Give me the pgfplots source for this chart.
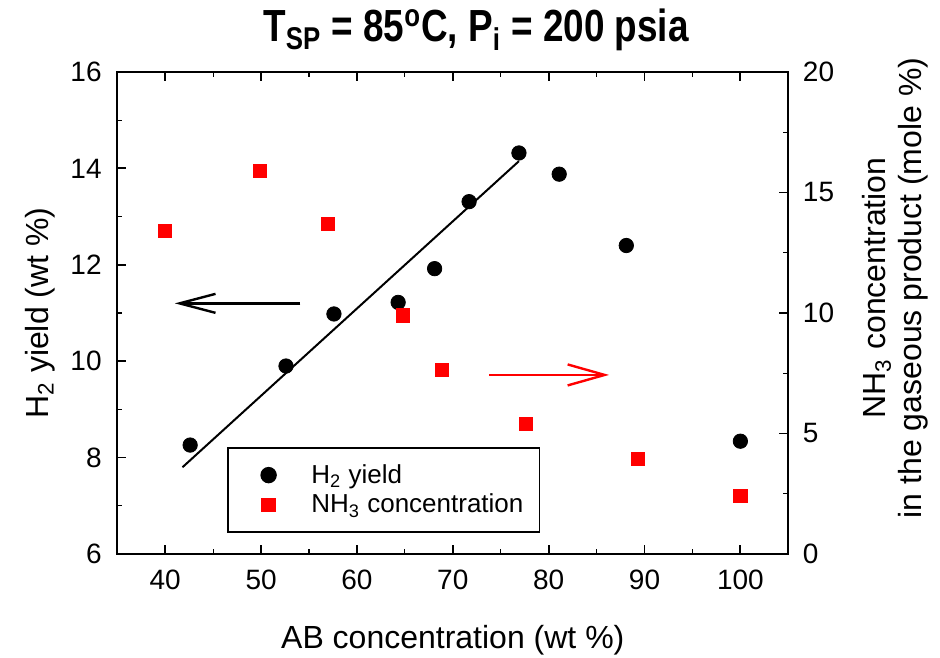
\documentclass[border=0pt]{standalone}
\usepackage{fontspec}
\setmainfont{Liberation Sans}
\newfontfamily\titlefont[FakeStretch=0.82]{Liberation Sans}
\usepackage{pgfplots}
\pgfplotsset{compat=1.18}
\usetikzlibrary{arrows.meta}

\pgfplotsset{
  common/.style={
    scale only axis,
    width=335.5pt, height=241pt,
    xmin=35, xmax=105,
    tick align=inside,
    major tick length=4.5pt,
    minor tick length=2.5pt,
    axis line style={line width=1.1pt},
    every tick/.style={black, line width=0.9pt},
    every minor tick/.style={black, line width=0.6pt},
    /pgf/number format/assume math mode=true,
    tick label style={font=\fontsize{14}{16}\selectfont},
    label style={font=\fontsize{16}{18}\selectfont},
  },
  legimg/.style={
    legend image code/.code={
      \path (0pt,0pt) (28pt,0pt);
      \draw[##1] plot coordinates {(14pt,0pt)};
    }
  }
}

\begin{document}
\begin{tikzpicture}
\useasboundingbox (-58.65pt,-51.5pt) rectangle (411.35pt,277pt);

% left axis: H2 yield
\begin{axis}[
  common,
  clip=false,
  ymin=6, ymax=16,
  ytick={6,8,...,16},
  minor y tick num=1,
  xtick={40,50,...,100},
  minor x tick num=1,
  ytick pos=left,
  xtick pos=both,
  xticklabel pos=bottom,
  xticklabel style={yshift=-4.3pt},
  yticklabel style={xshift=-4.3pt},
  xlabel={AB concentration (wt \%)},
  ylabel={H\textsubscript{2} yield (wt \%)},
  xlabel style={at={(axis description cs:0.5,0)}, anchor=base, yshift=-47pt},
  ylabel style={at={(axis description cs:-0.115,0.5)}, anchor=center},
]
\addplot[only marks, mark=*, mark size=3.6pt, black] coordinates {
  (42.6,8.26) (52.6,9.90) (57.6,10.98) (64.3,11.22) (68.1,11.92)
  (71.7,13.31) (76.9,14.32) (81.1,13.88) (88.1,12.40) (100,8.34)
};
\addplot[black, line width=1pt, no marks] coordinates {(41.8,7.80) (76.9,14.15)};
\draw[black, line width=1.2pt, -{Straight Barb[length=18pt,width=9.5pt,line width=1.2pt]}]
  (axis cs:54.1,11.2) -- (axis cs:41.0,11.2);
\node[font=\titlefont\bfseries\fontsize{22.5}{26}\selectfont, anchor=center]
  at (rel axis cs:0.5346,1) [yshift=21pt]
  {T\textsubscript{SP} = 85\textsuperscript{o}C, P\textsubscript{i} = 200 psia};
\end{axis}

% right axis: NH3 concentration
\begin{axis}[
  common,
  ymin=0, ymax=20,
  ytick={0,5,...,20},
  minor y tick num=1,
  axis x line=none,
  axis y line*=right,
  ytick pos=right,
  yticklabel style={xshift=3.8pt},
  ylabel={NH\textsubscript{3} concentration\\in the gaseous product (mole \%)},
  ylabel style={at={(axis description cs:1.1595,0.552)}, anchor=center, align=center},
  legend cell align=left,
  legend style={
    at={(rel axis cs:0.1635,0.222)}, anchor=north west,
    draw=black, line width=0.8pt,
    inner xsep=6pt, inner ysep=6.2pt,
    column sep=5pt,
    nodes={inner sep=2pt},
    font=\fontsize{13}{15}\selectfont,
  },
]
\addlegendimage{legimg, only marks, mark=*, mark size=3.7pt, black}
\addlegendentry{H\textsubscript{2} yield}
\addplot[legimg, only marks, mark=square*, mark size=3.3pt, red, draw=red, fill=red] coordinates {
  (40.0,13.40) (49.9,15.90) (57.0,13.70) (64.8,9.90) (68.9,7.65)
  (77.6,5.40) (89.3,3.95) (100,2.40)
};
\addlegendentry{NH\textsubscript{3} concentration}
\draw[red, line width=1.2pt, -{Straight Barb[length=18.5pt,width=10.5pt,line width=1.2pt]}]
  (axis cs:73.8,7.43) -- (axis cs:86.3,7.43);
\end{axis}
\end{tikzpicture}
\end{document}
